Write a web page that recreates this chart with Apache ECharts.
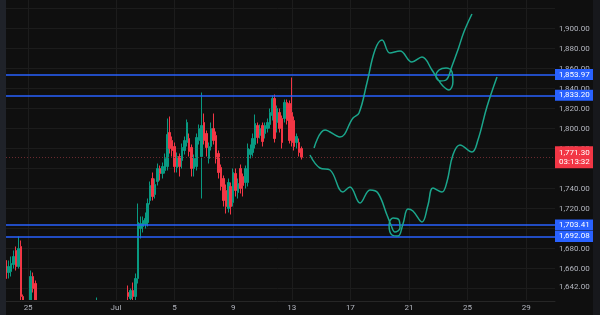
<!DOCTYPE html>
<html>
<head>
<meta charset="utf-8">
<script src="https://cdn.jsdelivr.net/npm/echarts@6/dist/echarts.min.js"></script>
<style>
  html, body { margin: 0; padding: 0; background: #0f0f0f; }
  #chart { width: 600px; height: 300px; }
  #timeScale { width: 600px; height: 15px; }
  .toolbar { position: absolute; left: 0; top: 0; width: 6px; height: 315px; background: #1f2229; }
  .edge { position: absolute; right: 0; top: 0; width: 7px; height: 315px; background: #17181c; }
</style>
</head>
<body>
<div id="chart"></div>
<div id="timeScale"></div>
<div class="toolbar"></div>
<div class="edge"></div>
<script>
// time in days from Jul 1 00:00, one candle every 4 hours
const candleStart = -7.5;
const candleStep = 1 / 6;

// [open, close, low, high]
const candles = [
  [1668, 1650, 1640, 1672], [1656, 1662, 1650, 1668], [1657, 1665, 1652, 1672], [1664, 1672, 1660, 1678],
  [1678, 1662, 1658, 1682], [1662, 1680, 1660, 1692], [1682, 1632, 1628, 1688], [1632, 1620, 1612, 1634],
  [1620, 1610, 1600, 1625], [1608, 1615, 1600, 1620], [1615, 1652, 1610, 1658], [1652, 1640, 1636, 1656],
  [1645, 1615, 1608, 1648], [1615, 1605, 1598, 1620], [1605, 1598, 1592, 1610], [1598, 1602, 1590, 1608],
  [1602, 1595, 1588, 1606], [1595, 1588, 1582, 1600], [1588, 1592, 1584, 1597], [1592, 1586, 1580, 1596],
  [1586, 1580, 1574, 1590], [1580, 1585, 1576, 1590], [1585, 1590, 1580, 1594], [1590, 1596, 1586, 1600],
  [1596, 1592, 1588, 1602], [1592, 1600, 1588, 1606], [1600, 1606, 1596, 1612], [1606, 1600, 1595, 1610],
  [1600, 1594, 1590, 1604], [1594, 1598, 1588, 1603], [1598, 1604, 1594, 1610], [1604, 1610, 1600, 1615],
  [1610, 1605, 1600, 1616], [1605, 1612, 1602, 1618], [1612, 1618, 1608, 1622], [1618, 1612, 1606, 1624],
  [1612, 1620, 1608, 1625], [1620, 1624, 1615, 1631], [1624, 1616, 1612, 1627], [1616, 1610, 1604, 1620],
  [1610, 1604, 1598, 1614], [1604, 1608, 1598, 1612], [1608, 1600, 1594, 1612], [1600, 1596, 1590, 1605],
  [1596, 1602, 1592, 1606], [1602, 1608, 1598, 1614], [1608, 1614, 1604, 1618], [1614, 1610, 1606, 1620],
  [1610, 1618, 1606, 1622], [1618, 1624, 1614, 1627], [1636, 1632, 1625, 1643], [1630, 1638, 1622, 1640],
  [1638, 1632, 1628, 1646], [1632, 1650, 1628, 1655], [1650, 1706, 1645, 1725], [1700, 1705, 1690, 1712],
  [1702, 1708, 1696, 1712], [1704, 1710, 1700, 1716], [1706, 1725, 1702, 1730], [1728, 1743, 1724, 1747],
  [1750, 1732, 1728, 1756], [1734, 1744, 1730, 1750], [1747, 1760, 1743, 1765], [1760, 1755, 1748, 1763],
  [1755, 1762, 1750, 1766], [1758, 1770, 1755, 1775], [1762, 1794, 1758, 1810], [1796, 1780, 1775, 1812],
  [1788, 1778, 1772, 1792], [1782, 1762, 1756, 1786], [1761, 1772, 1756, 1776], [1772, 1762, 1752, 1775],
  [1768, 1781, 1760, 1785], [1778, 1788, 1774, 1792], [1786, 1806, 1782, 1809], [1790, 1777, 1772, 1795],
  [1781, 1760, 1752, 1784], [1760, 1770, 1752, 1774], [1762, 1791, 1758, 1795], [1788, 1800, 1784, 1804],
  [1772, 1803, 1730, 1836], [1806, 1788, 1784, 1815], [1795, 1781, 1772, 1798], [1770, 1782, 1765, 1786],
  [1782, 1800, 1778, 1806], [1800, 1788, 1784, 1815], [1793, 1770, 1765, 1797], [1775, 1756, 1750, 1778],
  [1761, 1742, 1738, 1764], [1750, 1728, 1722, 1753], [1738, 1722, 1715, 1744], [1720, 1746, 1716, 1750],
  [1742, 1722, 1714, 1746], [1726, 1756, 1722, 1760], [1755, 1738, 1732, 1760], [1736, 1745, 1730, 1750],
  [1760, 1740, 1735, 1764], [1752, 1743, 1732, 1755], [1746, 1760, 1740, 1763], [1746, 1780, 1742, 1785],
  [1774, 1779, 1770, 1784], [1776, 1790, 1772, 1795], [1784, 1805, 1780, 1814], [1803, 1791, 1785, 1806],
  [1793, 1800, 1790, 1804], [1803, 1787, 1782, 1806], [1795, 1803, 1790, 1806], [1800, 1806, 1796, 1810],
  [1804, 1816, 1800, 1820], [1813, 1830, 1808, 1833], [1830, 1790, 1786, 1834], [1806, 1820, 1796, 1823],
  [1816, 1800, 1796, 1820], [1810, 1786, 1780, 1813], [1810, 1826, 1806, 1829], [1826, 1808, 1804, 1829],
  [1825, 1788, 1785, 1828], [1816, 1786, 1782, 1851], [1808, 1782, 1778, 1812], [1786, 1792, 1780, 1795],
  [1786, 1776, 1772, 1790], [1780, 1771.3, 1769, 1782]
];

// hand drawn projection paths, [day, price]
const pathUp = [
  [13.52, 1780.5], [14.27, 1798.5], [15.29, 1791.5], [16.18, 1810.5], [16.59, 1815.5], [17.13, 1845.5],
  [17.68, 1878.5], [18.16, 1888.5], [18.70, 1875.5], [19.39, 1877.5], [20.20, 1866.5], [20.89, 1871.5],
  [21.57, 1858.5], [21.91, 1850.5], [22.32, 1842.5], [22.73, 1838.5], [23.00, 1846.5], [22.94, 1856.5],
  [22.53, 1860.5], [22.05, 1858.5], [21.84, 1852.5], [22.12, 1847.5], [22.53, 1848.5], [22.94, 1862.5],
  [23.34, 1878.5], [23.75, 1896.5], [24.30, 1914.5]
];
const pathDown = [
  [13.24, 1773.5], [13.92, 1760.5], [14.61, 1758.5], [15.49, 1736.5], [15.97, 1741.5], [16.66, 1725.5],
  [17.34, 1738.5], [17.88, 1735.5], [18.50, 1713.5], [18.77, 1703.5], [19.04, 1696.5], [19.39, 1700.5],
  [19.32, 1708.5], [18.91, 1710.5], [18.64, 1703.5], [18.84, 1693.5], [19.25, 1692.5], [19.59, 1704.5],
  [19.93, 1719.5], [20.27, 1717.5], [20.89, 1706.5], [21.30, 1723.5], [21.64, 1740.5], [22.25, 1736.5],
  [22.59, 1746.5], [23.00, 1773.5], [23.48, 1783.5], [24.30, 1776.5], [24.71, 1788.5], [25.32, 1821.5],
  [26.01, 1851.5]
];

const levels = [1853.97, 1833.20, 1703.41, 1692.08];
const lastPrice = 1771.30;
const countdown = "03:13:32";

const priceLabels = [1900, 1880, 1860, 1840, 1820, 1800, 1780, 1740, 1720, 1680, 1660, 1642];
const priceGrid = [1640, 1660, 1680, 1700, 1720, 1740, 1760, 1780, 1800, 1820, 1840, 1860, 1880, 1900, 1920];
const dateTicks = [-6, 0, 4, 8, 12, 16, 20, 24, 28];
const dateLabels = ["25", "Jul", "5", "9", "13", "17", "21", "25", "29"];

function fmt(v) {
  return Number(v).toFixed(2).replace(/\B(?=(\d{3})+(?!\d))/g, ",");
}

const up = "#089981";
const down = "#f23645";
const font = "Roboto, 'Liberation Sans', sans-serif";
const gridColor = "#1c1c1c";

const xRange = { min: -7.92, max: 29.97 };

const candleData = candles.map((c, i) => [candleStart + i * candleStep, c[0], c[1], c[2], c[3]]);

const levelLines = levels.map((v) => ({
  yAxis: v,
  lineStyle: { color: "#2962ff", width: 1.5, type: "solid" },
  label: {
    show: true, position: "end", distance: 0, formatter: fmt(v),
    color: "#fff", backgroundColor: "#2962ff", padding: [2, 4, 1, 4],
    fontSize: 8, fontFamily: font
  }
}));

// price pane (canvas clips candles that run below the visible range)
const chart = echarts.init(document.getElementById("chart"));
chart.setOption({
  animation: false,
  backgroundColor: "#0f0f0f",
  grid: { left: 0, right: 45, top: 0, bottom: 0 },
  xAxis: {
    type: "value", ...xRange,
    axisLine: { show: false },
    axisTick: { show: false, customValues: dateTicks },
    axisLabel: { show: false },
    splitLine: { show: true, lineStyle: { color: gridColor, width: 1 } }
  },
  yAxis: {
    type: "value",
    position: "right",
    min: 1628.5,
    max: 1928.5,
    axisLine: { show: false },
    axisTick: { show: false, customValues: priceGrid },
    axisLabel: {
      customValues: priceLabels,
      color: "#b2b5be", fontSize: 8, fontFamily: font, margin: 4,
      formatter: (v) => fmt(v)
    },
    splitLine: { show: true, lineStyle: { color: gridColor, width: 1 } }
  },
  series: [
    {
      type: "candlestick",
      data: candleData,
      encode: { x: 0, y: [1, 2, 3, 4] },
      barWidth: 2,
      itemStyle: { color: up, color0: down, borderColor: up, borderColor0: down, borderWidth: 1 },
      markLine: {
        silent: true,
        symbol: "none",
        animation: false,
        data: [
          ...levelLines,
          {
            yAxis: lastPrice,
            lineStyle: { color: "#6b2a2f", width: 1, type: [1, 2] },
            label: {
              show: true, position: "end", distance: 0,
              formatter: fmt(lastPrice) + "\n" + countdown,
              color: "#fff", backgroundColor: down, padding: [2, 4, 2, 4],
              fontSize: 8, lineHeight: 9, fontFamily: font
            }
          }
        ]
      }
    },
    {
      type: "line",
      data: pathUp,
      smooth: 0.4,
      showSymbol: false,
      lineStyle: { color: "#1ba68c", width: 1.5 },
      z: 5
    },
    {
      type: "line",
      data: pathDown,
      smooth: 0.4,
      showSymbol: false,
      lineStyle: { color: "#1ba68c", width: 1.5 },
      z: 5
    }
  ]
});

// time scale strip
const timeScale = echarts.init(document.getElementById("timeScale"));
timeScale.setOption({
  animation: false,
  backgroundColor: "#0f0f0f",
  grid: { left: 0, right: 45, top: 0, bottom: 14 },
  xAxis: {
    type: "value", ...xRange,
    axisLine: { show: true, lineStyle: { color: "#262626" } },
    axisTick: { show: false, customValues: dateTicks },
    axisLabel: {
      customValues: dateTicks,
      color: "#b2b5be", fontSize: 8, fontFamily: font, margin: 3,
      formatter: (v) => dateLabels[dateTicks.indexOf(v)] ?? ""
    },
    splitLine: { show: false }
  },
  yAxis: { type: "value", show: false }
});
</script>
</body>
</html>
